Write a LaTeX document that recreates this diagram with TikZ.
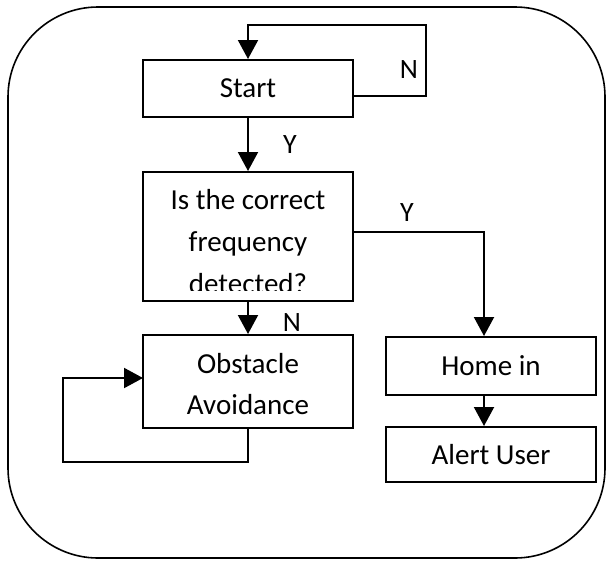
\documentclass[tikz,border=0pt]{standalone}
\usepackage{fontspec}
\setmainfont{Carlito}
\usetikzlibrary{arrows.meta}
\begin{document}
\begin{tikzpicture}[x=1pt,y=-1pt,
  box/.style={draw, line width=2pt, minimum width=210pt, inner sep=0pt,
    font=\fontsize{29}{41}\selectfont, align=center},
  tline/.style={anchor=base, inner sep=0pt, font=\fontsize{29}{41}\selectfont},
  flow/.style={line width=2pt, -{Triangle[width=20pt,length=19pt]}},
  lbl/.style={font=\fontsize{28}{32}\selectfont, inner sep=0pt}]
\useasboundingbox (0,0) rectangle (607,560);

% outer frame
\draw[line width=1.6pt, rounded corners=90pt] (8,7) rectangle (605,558);

% process boxes
\node[box, minimum height=57pt] (start) at (248,88.5) {Start};
\node[box, minimum height=129pt] (dec) at (248,236.5) {};
\node[box, minimum height=93pt] (obs) at (248,381.5) {};
\node[box, minimum height=58pt] (home) at (491,366) {Home in};
\node[box, minimum height=55pt] (alert) at (491,454.5) {Alert User};

% question text, cut off by the lower edge of its box
\begin{scope}
  \clip (143,172) rectangle (353,290);
  \node[tline] (q1) at (248,209.5) {Is the correct};
  \node[tline] (q2) at (248,251.5) {frequency};
  \node[tline] (q3) at (248,293.5) {detected?};
\end{scope}

% two-line label of the avoidance box
\node[tline] (o1) at (248,373) {Obstacle};
\node[tline] (o2) at (248,414) {Avoidance};

% helper points for the connectors
\coordinate (sloop) at (426,25);
\coordinate (ybr) at (484,232);
\coordinate (oloop) at (63,462);
\coordinate (oin) at (143,378);

% connectors
\draw[flow] (start.east |- 0,96) -| (sloop) -| (start.north);
\draw[flow] (start.south) -- (dec.north);
\draw[flow] (dec.east |- ybr) -| (ybr |- home.north);
\draw[flow] (dec.south) -- (obs.north);
\draw[flow] (obs.south) |- (oloop) |- (oin);
\draw[flow] (ybr |- home.south) -- (ybr |- alert.north);

% branch labels
\node[lbl] (nstart) at (409,70) {N};
\node[lbl] (ystart) at (290,145) {Y};
\node[lbl] (ydec) at (407,213) {Y};
\node[lbl] (ndec) at (292,323) {N};
\end{tikzpicture}
\end{document}
